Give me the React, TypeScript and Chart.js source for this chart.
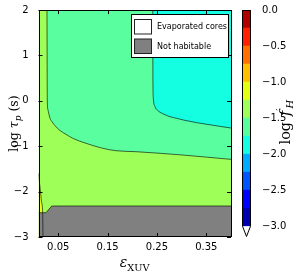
import React, { useEffect, useRef } from 'react';
import { Chart, registerables } from 'chart.js';

Chart.register(...registerables);

// ---- axis ranges & ticks ----
const X_MIN = 0.01;
const X_MAX = 0.4;
const Y_MIN = -3;
const Y_MAX = 2;
const xTicks = [0.05, 0.15, 0.25, 0.35];
const yTicks = [-3, -2, -1, 0, 1, 2];

// ---- contour region boundaries ----
const bgX = [0.01, 0.4];
const bgY = [2, 2];

const yellowX = [0.01, 0.0125, 0.0145, 0.0165, 0.0185, 0.0191];
const yellowY = [-1.6, -1.85, -2.05, -2.25, -2.47, -3];

const mintX = [0.0272, 0.0276, 0.0278, 0.0292, 0.0307, 0.0333, 0.0373, 0.044, 0.0521, 0.0657, 0.0793, 0.1062, 0.14, 0.167, 0.2075, 0.2967, 0.4];
const mintY = [2, 0.46, 0.02, -0.2, -0.275, -0.385, -0.46, -0.555, -0.643, -0.738, -0.826, -0.936, -1.046, -1.099, -1.121, -1.19, -1.29];

const cyanX = [0.2415, 0.2418, 0.2426, 0.246, 0.2507, 0.2562, 0.2663, 0.2765, 0.29, 0.3034, 0.3305, 0.364, 0.4];
const cyanY = [2, 0.46, 0.055, -0.13, -0.203, -0.253, -0.306, -0.35, -0.386, -0.423, -0.482, -0.54, -0.6];

const grayX = [0.01, 0.0252, 0.0367, 0.4];
const grayY = [-2.465, -2.465, -2.317, -2.317];

const divX = [0.0185, 0.0191];
const divY = [-2.47, -3];

// ---- legend ----
const legendLabels = ['Evaporated cores', 'Not habitable'];
const legendColors = ['#ffffff', '#808080'];

// ---- colorbar ----
const cbLevels = [-3, -2.75, -2.5, -2.25, -2, -1.75, -1.5, -1.25, -1, -0.75, -0.5, -0.25, 0];
const cbColors = ['#0000b0', '#0000ff', '#0055ff', '#00aaff', '#14ffe2', '#59ff9e', '#9eff59', '#e2ff14', '#ffbe00', '#ff7000', '#ff2100', '#b00000'];
const cbTicks = [-3, -2.5, -2, -1.5, -1, -0.5, 0];
const CB_MIN = -3.15;

const C_YG = cbColors[6];
const C_Y = cbColors[7];
const C_MINT = cbColors[5];
const C_CYAN = cbColors[4];
const C_GRAY = '#808080';
const LINE = 'rgba(0,0,0,0.6)';

const TICK_FONT = { family: 'DejaVu Sans', size: 10 };
const SERIF = '"DejaVu Serif", serif';

const pts = (xs: number[], ys: number[]) => xs.map((x, i) => ({ x, y: ys[i] }));
const minus = (s: string) => s.replace('-', '\u2212');

type Run = { t: string; f: string; dy?: number };
function drawRuns(ctx: CanvasRenderingContext2D, runs: Run[], x: number, y: number, rot: number) {
  ctx.save();
  ctx.translate(x, y);
  ctx.rotate(rot);
  ctx.textBaseline = 'alphabetic';
  ctx.textAlign = 'left';
  ctx.fillStyle = '#000';
  let w = 0;
  for (const r of runs) {
    ctx.font = r.f;
    w += ctx.measureText(r.t).width;
  }
  let cx = -w / 2;
  for (const r of runs) {
    ctx.font = r.f;
    ctx.fillText(r.t, cx, r.dy || 0);
    cx += ctx.measureText(r.t).width;
  }
  ctx.restore();
}

const mainDecor = {
  id: 'mainDecor',
  afterDraw(chart: any) {
    const { ctx, chartArea } = chart;
    const { left, right, top, bottom } = chartArea;
    const xs = chart.scales.x;
    const ys = chart.scales.y;
    ctx.save();
    ctx.strokeStyle = '#000';
    ctx.lineWidth = 1;
    ctx.beginPath();
    for (const v of xTicks) {
      const p = Math.round(xs.getPixelForValue(v)) + 0.5;
      ctx.moveTo(p, bottom);
      ctx.lineTo(p, bottom - 4);
      ctx.moveTo(p, top);
      ctx.lineTo(p, top + 4);
    }
    for (const v of yTicks) {
      const p = Math.round(ys.getPixelForValue(v)) + 0.5;
      ctx.moveTo(left, p);
      ctx.lineTo(left + 4, p);
      ctx.moveTo(right, p);
      ctx.lineTo(right - 4, p);
    }
    ctx.stroke();
    ctx.strokeRect(Math.round(left) + 0.5, Math.round(top) + 0.5, Math.round(right - left) - 1, Math.round(bottom - top) - 1);

    // legend
    const bw = 97;
    const bh = 43;
    const bx = Math.round(right - 3 - bw) + 0.5;
    const by = Math.round(top + 4) + 0.5;
    ctx.fillStyle = '#fff';
    ctx.fillRect(bx, by, bw, bh);
    ctx.strokeStyle = '#000';
    ctx.strokeRect(bx, by, bw, bh);
    ctx.font = '8px "DejaVu Sans"';
    ctx.textBaseline = 'middle';
    ctx.textAlign = 'left';
    legendLabels.forEach((lab, i) => {
      const py = by + 5 + i * 19.5;
      ctx.fillStyle = legendColors[i];
      ctx.fillRect(bx + 3, py, 17, 14.5);
      ctx.strokeStyle = '#222';
      ctx.strokeRect(bx + 3, py, 17, 14.5);
      ctx.fillStyle = '#000';
      ctx.fillText(lab, bx + 25.5, py + 7.5);
    });

    // axis titles
    drawRuns(ctx, [
      { t: 'log ', f: `12.5px ${SERIF}` },
      { t: 'τ', f: `italic 12.5px ${SERIF}` },
      { t: 'p', f: `italic 9px ${SERIF}`, dy: 3 },
      { t: ' (s)', f: `12.5px ${SERIF}` },
    ], 17.5, (top + bottom) / 2, -Math.PI / 2);
    drawRuns(ctx, [
      { t: 'ε', f: `italic 14px ${SERIF}` },
      { t: 'XUV', f: `9.8px ${SERIF}`, dy: 3.5 },
    ], (left + right) / 2, 267, 0);
    ctx.restore();
  },
};

const cbDecor = {
  id: 'cbDecor',
  afterDraw(chart: any) {
    const { ctx, chartArea } = chart;
    const { left, right } = chartArea;
    const ys = chart.scales.y;
    const yTop = ys.getPixelForValue(0);
    const yLow = ys.getPixelForValue(-3);
    const yTip = ys.getPixelForValue(CB_MIN);
    ctx.save();
    ctx.beginPath();
    ctx.moveTo(left, yLow);
    ctx.lineTo((left + right) / 2, yTip);
    ctx.lineTo(right, yLow);
    ctx.closePath();
    ctx.fillStyle = '#fff';
    ctx.fill();
    ctx.strokeStyle = '#000';
    ctx.lineWidth = 1;
    ctx.beginPath();
    ctx.moveTo(left + 0.5, yTop + 0.5);
    ctx.lineTo(right - 0.5, yTop + 0.5);
    ctx.lineTo(right - 0.5, yLow);
    ctx.lineTo((left + right) / 2, yTip - 0.5);
    ctx.lineTo(left + 0.5, yLow);
    ctx.closePath();
    ctx.stroke();
    drawRuns(ctx, [
      { t: 'log\u2009\u2009', f: `14.5px ${SERIF}` },
      { t: 'f', f: `italic 14.5px ${SERIF}` },
      { t: '\u2032', f: `10px ${SERIF}`, dy: -7 },
      { t: 'H', f: `italic 10px ${SERIF}`, dy: 3 },
    ], 290, (yTop + yLow) / 2 + 4, -Math.PI / 2);
    ctx.restore();
  },
};

export default function App() {
  const mainRef = useRef<HTMLCanvasElement>(null);
  const cbRef = useRef<HTMLCanvasElement>(null);

  useEffect(() => {
    document.body.style.margin = '0';
    const common = { pointRadius: 0, showLine: true, cubicInterpolationMode: 'monotone' as const };
    const main = new Chart(mainRef.current!, {
      type: 'scatter',
      data: {
        datasets: [
          { ...common, label: 'bg', data: pts(bgX, bgY), fill: 'start', backgroundColor: C_YG, borderWidth: 0, order: 10 },
          { ...common, label: 'yellow', data: pts(yellowX, yellowY), fill: 'start', backgroundColor: C_Y, borderColor: LINE, borderWidth: 1, order: 9 },
          { ...common, label: 'mint', data: pts(mintX, mintY), fill: 'end', backgroundColor: C_MINT, borderColor: LINE, borderWidth: 1, order: 8 },
          { ...common, label: 'cyan', data: pts(cyanX, cyanY), fill: 'end', backgroundColor: C_CYAN, borderColor: LINE, borderWidth: 1, order: 7 },
          { ...common, label: 'gray', data: pts(grayX, grayY), fill: 'start', backgroundColor: C_GRAY, borderColor: LINE, borderWidth: 1, cubicInterpolationMode: 'default', order: 6 },
          { ...common, label: 'div', data: pts(divX, divY), fill: false, borderColor: LINE, borderWidth: 1, order: 5 },
        ],
      } as any,
      options: {
        responsive: false,
        animation: false,
        devicePixelRatio: 1,
        layout: { padding: { left: 0, right: 67, top: 10, bottom: 0 } },
        plugins: { legend: { display: false }, tooltip: { enabled: false } },
        scales: {
          x: {
            type: 'linear', min: X_MIN, max: X_MAX,
            afterBuildTicks: (s: any) => { s.ticks = xTicks.map((v) => ({ value: v })); },
            afterFit: (s: any) => { s.height = 40; },
            ticks: { callback: (v: any) => Number(v).toFixed(2), font: TICK_FONT, color: '#000', padding: -4, maxRotation: 0, autoSkip: false },
            grid: { display: false },
            border: { display: false },
          },
          y: {
            type: 'linear', min: Y_MIN, max: Y_MAX,
            afterBuildTicks: (s: any) => { s.ticks = yTicks.map((v) => ({ value: v })); },
            afterFit: (s: any) => { s.width = 38.5; },
            ticks: { callback: (v: any) => minus(String(Number(v))), font: TICK_FONT, color: '#000', padding: 2, autoSkip: false },
            grid: { display: false },
            border: { display: false },
          },
        },
      } as any,
      plugins: [mainDecor],
    });

    const cb = new Chart(cbRef.current!, {
      type: 'bar',
      data: {
        labels: ['cb'],
        datasets: cbColors.map((c, i) => ({
          label: String(i),
          data: [[cbLevels[i], cbLevels[i + 1]]],
          backgroundColor: c,
          borderWidth: 0,
          barPercentage: 1,
          categoryPercentage: 1,
          grouped: false,
        })),
      } as any,
      options: {
        responsive: false,
        animation: false,
        devicePixelRatio: 1,
        layout: { padding: { left: 242, right: 0, top: 10, bottom: 40 } },
        plugins: { legend: { display: false }, tooltip: { enabled: false } },
        scales: {
          x: { display: false },
          y: {
            position: 'right', min: CB_MIN, max: 0,
            afterBuildTicks: (s: any) => { s.ticks = cbTicks.map((v) => ({ value: v })); },
            afterFit: (s: any) => { s.width = 47; },
            ticks: { callback: (v: any) => minus(Number(v).toFixed(1)), font: TICK_FONT, color: '#000', padding: 3, autoSkip: false },
            grid: { display: false },
            border: { display: false },
          },
        },
      } as any,
      plugins: [cbDecor],
    });

    return () => {
      main.destroy();
      cb.destroy();
    };
  }, []);

  return (
    <div style={{ position: 'relative', width: 298, height: 277 }}>
      <canvas ref={mainRef} width={298} height={277} style={{ position: 'absolute', left: 0, top: 0 }} />
      <canvas ref={cbRef} width={298} height={277} style={{ position: 'absolute', left: 0, top: 0 }} />
    </div>
  );
}
